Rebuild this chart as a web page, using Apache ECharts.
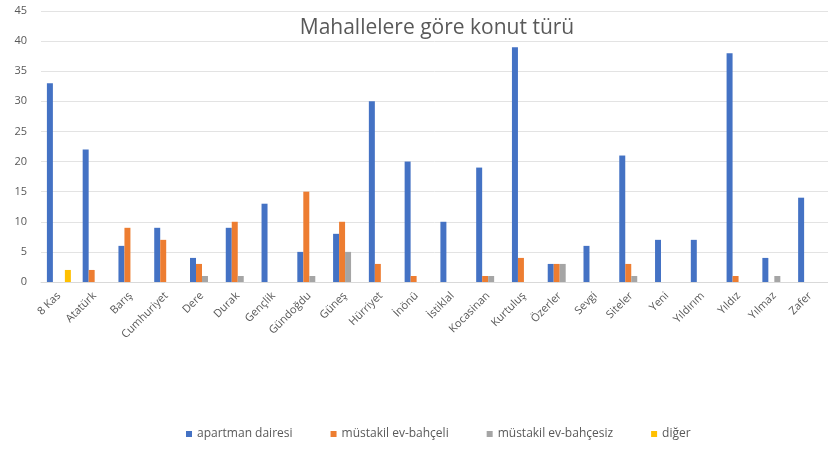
<!DOCTYPE html>
<html>
<head>
<meta charset="utf-8">
<script src="https://cdn.jsdelivr.net/npm/echarts@6/dist/echarts.min.js"></script>
<style>
  html, body { margin: 0; padding: 0; background: #fff; }
  #chart { width: 828px; height: 454px; }
</style>
</head>
<body>
<div id="chart"></div>
<script>
// mahalle adları ve konut türü sayıları
const mahalleler = ['8 Kas', 'Atatürk', 'Barış', 'Cumhuriyet', 'Dere', 'Durak', 'Gençlik', 'Gündoğdu', 'Güneş', 'Hürriyet', 'İnönü',
  'İstiklal', 'Kocasinan', 'Kurtuluş', 'Özerler', 'Sevgi', 'Siteler', 'Yeni', 'Yıldırım', 'Yıldız', 'Yılmaz', 'Zafer'];
const apartman = [33, 22, 6, 9, 4, 9, 13, 5, 8, 30, 20, 10, 19, 39, 3, 6, 21, 7, 7, 38, 4, 14];
const bahceli  = [0, 2, 9, 7, 3, 10, 0, 15, 10, 3, 1, 0, 1, 4, 3, 0, 3, 0, 0, 1, 0, 0];
const bahcesiz = [0, 0, 0, 0, 1, 1, 0, 1, 5, 0, 0, 0, 1, 0, 3, 0, 1, 0, 0, 0, 1, 0];
const diger    = [2, 0, 0, 0, 0, 0, 0, 0, 0, 0, 0, 0, 0, 0, 0, 0, 0, 0, 0, 0, 0, 0];
const seriAdlari = ['apartman dairesi', 'müstakil ev-bahçeli', 'müstakil ev-bahçesiz', 'diğer'];
const renkler = ['#4472C4', '#ED7D31', '#A5A5A5', '#FFC000'];

const yazi = '"Open Sans", "Noto Sans", sans-serif';
const chart = echarts.init(document.getElementById('chart'));

const seriler = [apartman, bahceli, bahcesiz, diger].map((d, i) => ({
  name: seriAdlari[i],
  type: 'bar',
  data: d,
  barGap: 0,
  barCategoryGap: '33%',
  itemStyle: { color: renkler[i] }
}));

chart.setOption({
  animation: false,
  color: renkler,
  title: {
    text: 'Mahallelere göre konut türü',
    left: 432,
    textAlign: 'center',
    top: 13,
    textStyle: { fontFamily: yazi, fontSize: 21, fontWeight: 'normal', color: '#595959' }
  },
  legend: {
    bottom: 9,
    left: 181,
    itemWidth: 6,
    itemHeight: 6,
    itemGap: 38,
    icon: 'rect',
    textStyle: { fontFamily: yazi, fontSize: 12, color: '#595959' },
    data: seriAdlari
  },
  grid: { left: 41, right: -5, top: 11, bottom: 172, containLabel: false },
  xAxis: {
    type: 'category',
    data: mahalleler,
    axisLine: { lineStyle: { color: '#D9D9D9' } },
    axisTick: { show: false },
    axisLabel: { rotate: 45, margin: 12, fontFamily: yazi, fontSize: 11, color: '#595959', interval: 0 }
  },
  yAxis: {
    type: 'value',
    min: 0,
    max: 45,
    interval: 5,
    axisLine: { show: false },
    axisTick: { show: false },
    splitLine: { lineStyle: { color: '#E3E3E3' } },
    axisLabel: { margin: 14, fontFamily: yazi, fontSize: 11, color: '#595959' }
  },
  series: seriler
});
</script>
</body>
</html>
